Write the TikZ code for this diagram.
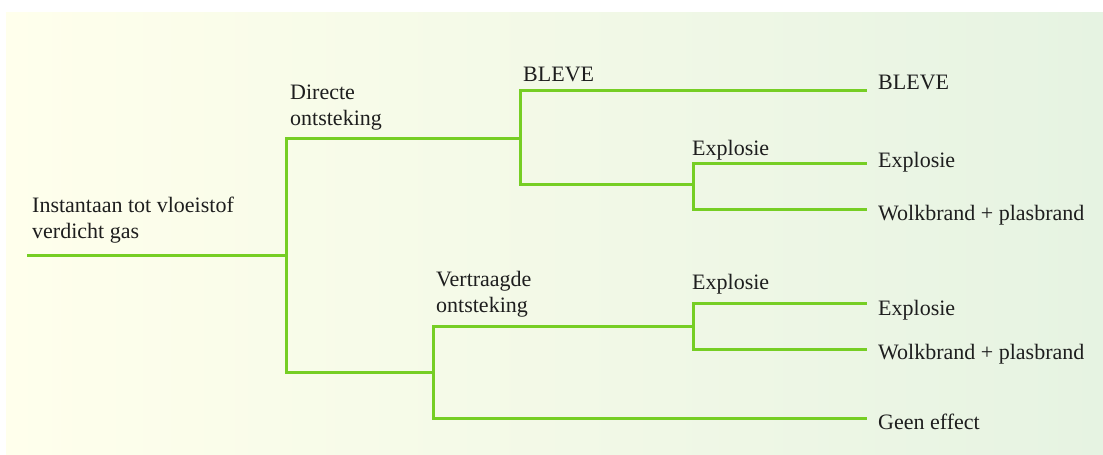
\documentclass[tikz,border=0pt]{standalone}
\usepackage{fontspec}
\setmainfont{Liberation Serif}
\definecolor{bgleft}{RGB}{255,255,236}
\definecolor{bgright}{RGB}{230,243,226}
\definecolor{branch}{RGB}{118,206,36}
\definecolor{txt}{RGB}{30,30,30}
\begin{document}
\begin{tikzpicture}[x=1pt,y=-1pt,
  br/.style={draw=branch,line width=3pt,line cap=rect},
  lbl/.style={inner sep=0pt,anchor=base west,text=txt,font=\fontsize{22}{26}\selectfont,align=left},
  leaf/.style={lbl}]
\useasboundingbox (0,0) rectangle (1103,455);
\shade[left color=bgleft,right color=bgright] (6,12) rectangle (1103,455);
% coordinates
\coordinate (r0) at (28,255);
\coordinate (r1) at (286,255);
\coordinate (d0) at (286,138);
\coordinate (d1) at (520,138);
\coordinate (b0) at (520,90);
\coordinate (b1) at (865,90);
\coordinate (e0) at (520,184);
\coordinate (e1) at (693,184);
\coordinate (e2) at (693,163);
\coordinate (e3) at (865,163);
\coordinate (w2) at (693,209);
\coordinate (w3) at (865,209);
\coordinate (v0) at (286,372);
\coordinate (v1) at (433,372);
\coordinate (f0) at (433,326);
\coordinate (f1) at (693,326);
\coordinate (f2) at (693,303);
\coordinate (f3) at (865,303);
\coordinate (g2) at (693,349);
\coordinate (g3) at (865,349);
\coordinate (h0) at (433,418);
\coordinate (h1) at (865,418);
% branches
\draw[br] (r0) -- (r1);
\draw[br] (d0) -- (v0);
\draw[br] (d0) -- (d1);
\draw[br] (b0) -- (e0);
\draw[br] (b0) -- (b1);
\draw[br] (e0) -- (e1);
\draw[br] (e2) -- (w2);
\draw[br] (e2) -- (e3);
\draw[br] (w2) -- (w3);
\draw[br] (v0) -- (v1);
\draw[br] (f0) -- (h0);
\draw[br] (f0) -- (f1);
\draw[br] (f2) -- (g2);
\draw[br] (f2) -- (f3);
\draw[br] (g2) -- (g3);
\draw[br] (h0) -- (h1);
% labels (multi-line: base = last line)
\node[lbl] (root) at (32,238) {Instantaan tot vloeistof\\verdicht gas};
\node[lbl] (direct) at (290,125) {Directe\\ontsteking};
\node[lbl] (bleve) at (523,81) {BLEVE};
\node[lbl] (expl1) at (692,155) {Explosie};
\node[lbl] (vertr) at (436,312) {Vertraagde\\ontsteking};
\node[lbl] (expl2) at (692,289) {Explosie};
\node[leaf] (l1) at (878,89) {BLEVE};
\node[leaf] (l2) at (878,167) {Explosie};
\node[leaf] (l3) at (878,220) {Wolkbrand + plasbrand};
\node[leaf] (l4) at (878,315) {Explosie};
\node[leaf] (l5) at (878,359) {Wolkbrand + plasbrand};
\node[leaf] (l6) at (878,429) {Geen effect};
\end{tikzpicture}
\end{document}
